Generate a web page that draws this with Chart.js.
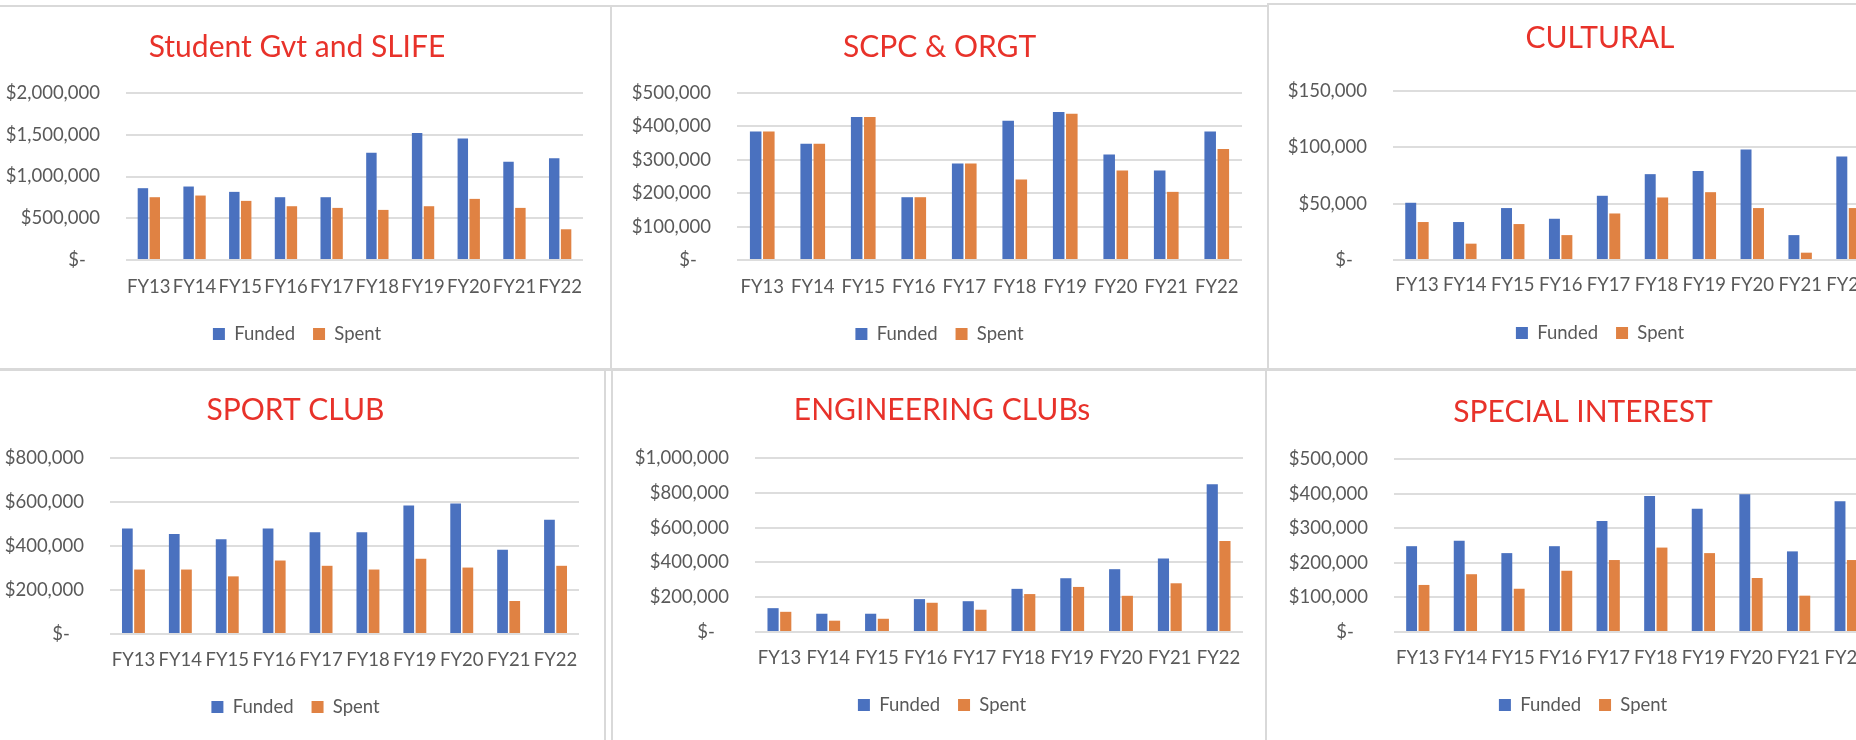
<!DOCTYPE html>
<html>
<head>
<meta charset="utf-8">
<script src="https://cdn.jsdelivr.net/npm/chart.js@4.4.1/dist/chart.umd.min.js"></script>
<style>
html,body{margin:0;padding:0;width:1856px;height:740px;overflow:hidden;background:#ffffff;}
canvas{position:absolute;}
.ln{position:absolute;background:#d9d9d9;z-index:5;}
</style>
</head>
<body>
<div class="ln" style="left:0;top:5px;width:1268px;height:2px"></div>
<div class="ln" style="left:1268px;top:3px;width:588px;height:2px"></div>
<div class="ln" style="left:0;top:368px;width:1856px;height:3px"></div>
<div class="ln" style="left:610px;top:5px;width:2px;height:364px"></div>
<div class="ln" style="left:1267px;top:3px;width:2px;height:366px"></div>
<div class="ln" style="left:604px;top:370px;width:2px;height:370px"></div>
<div class="ln" style="left:611px;top:370px;width:2px;height:370px"></div>
<div class="ln" style="left:1265px;top:370px;width:2px;height:370px"></div>
<script>
// ---------- data ----------
const categories = ['FY13','FY14','FY15','FY16','FY17','FY18','FY19','FY20','FY21','FY22'];
const seriesNames = ['Funded','Spent'];

const sgTitle = 'Student Gvt and SLIFE';
const sgFunded = [860000, 880000, 816000, 752000, 752000, 1284000, 1520000, 1456000, 1176000, 1220000];
const sgSpent  = [752000, 772000, 708000, 644000, 624000, 600000, 644000, 732000, 624000, 368000];
const sgTicks  = [0, 500000, 1000000, 1500000, 2000000];

const scpcTitle = 'SCPC & ORGT';
const scpcFunded = [385000, 348000, 428000, 188000, 289000, 417000, 443000, 316000, 268000, 385000];
const scpcSpent  = [385000, 348000, 428000, 188000, 289000, 241000, 438000, 268000, 204000, 332000];
const scpcTicks  = [0, 100000, 200000, 300000, 400000, 500000];

const culTitle = 'CULTURAL';
const culFunded = [50800, 33700, 46100, 36600, 57000, 76200, 79100, 98000, 22100, 91800];
const culSpent  = [33700, 14500, 31900, 22100, 41300, 55500, 60200, 46100, 6500, 46100];
const culTicks  = [0, 50000, 100000, 150000];

const sportTitle = 'SPORT CLUB';
const sportFunded = [479000, 455000, 431000, 479000, 463000, 463000, 584000, 593000, 383000, 519000];
const sportSpent  = [293000, 293000, 262000, 334000, 310000, 293000, 342000, 302000, 150000, 310000];
const sportTicks  = [0, 200000, 400000, 600000, 800000];

const engTitle = 'ENGINEERING CLUBs';
const engFunded = [137000, 105000, 105000, 189000, 177000, 248000, 309000, 361000, 422000, 849000];
const engSpent  = [116000, 65000, 76000, 168000, 128000, 218000, 259000, 208000, 280000, 523000];
const engTicks  = [0, 200000, 400000, 600000, 800000, 1000000];

const spTitle = 'SPECIAL INTEREST';
const spFunded = [248000, 264000, 228000, 248000, 321000, 393000, 356000, 398000, 233000, 378000];
const spSpent  = [136000, 167000, 125000, 177000, 208000, 244000, 228000, 156000, 105000, 208000];
const spTicks  = [0, 100000, 200000, 300000, 400000, 500000];

// ---------- layout / style ----------
const COLORS = ['#4A71BF', '#E08243'];
const TITLE_COLOR = '#E8322A';
const TEXT_COLOR = '#595959';
const GRID_COLOR = '#DDDDDD';
const FONT = 'Lato';
const TS = 30, FS = 18.5, LEG_PAD = 18, BOX = 12, LABEL_GAP = 26;

const panels = [
  {title: sgTitle, f: sgFunded, s: sgSpent, ticks: sgTicks,
   box: {l: -17, r: 611, t: 7, b: 368}, plot: {l: 126, r: 583, t: 93, b: 260}, titleY: 47, labelY: 287, legendY: 334},
  {title: scpcTitle, f: scpcFunded, s: scpcSpent, ticks: scpcTicks,
   box: {l: 612, r: 1267, t: 7, b: 368}, plot: {l: 737, r: 1242, t: 93, b: 260}, titleY: 47, labelY: 287, legendY: 334},
  {title: culTitle, f: culFunded, s: culSpent, ticks: culTicks,
   box: {l: 1269, r: 1931, t: 5, b: 368}, plot: {l: 1393, r: 1872, t: 91, b: 260}, titleY: 38, labelY: 285, legendY: 333},
  {title: sportTitle, f: sportFunded, s: sportSpent, ticks: sportTicks,
   box: {l: -13, r: 604, t: 371, b: 740}, plot: {l: 110, r: 579, t: 458, b: 634}, titleY: 410, labelY: 660, legendY: 707},
  {title: engTitle, f: engFunded, s: engSpent, ticks: engTicks,
   box: {l: 613, r: 1271, t: 371, b: 740}, plot: {l: 755, r: 1243, t: 458, b: 632}, titleY: 410, labelY: 658, legendY: 705},
  {title: spTitle, f: spFunded, s: spSpent, ticks: spTicks,
   box: {l: 1267, r: 1899, t: 371, b: 740}, plot: {l: 1394, r: 1870, t: 459, b: 632}, titleY: 412, labelY: 658, legendY: 705}
];

function money(v) {
  if (v === 0) return '$-   ';
  return '$' + Number(v).toLocaleString('en-US');
}

function makePanel(p) {
  const W = p.box.r - p.box.l, H = p.box.b - p.box.t;
  const cv = document.createElement('canvas');
  cv.width = W; cv.height = H;
  cv.style.left = p.box.l + 'px'; cv.style.top = p.box.t + 'px';
  cv.style.width = W + 'px'; cv.style.height = H + 'px';
  document.body.appendChild(cv);

  const tlh = TS * 1.2;
  const tPadTop = p.titleY - p.box.t - tlh / 2;
  const tPadBottom = p.plot.t - p.box.t - tPadTop - tlh;
  const itemH = Math.max(FS, BOX);
  const legendH = itemH + LEG_PAD + 10;
  const legendTop = p.legendY - LEG_PAD - itemH / 2;
  const padBottom = p.box.b - (legendTop + legendH);
  const xH = legendTop - p.plot.b;
  const xPad = p.labelY - p.plot.b - FS * 1.2 / 2;
  const yW = p.plot.l - p.box.l;
  const rW = p.box.r - p.plot.r;
  const tk = p.ticks;

  new Chart(cv, {
    type: 'bar',
    data: {
      labels: categories,
      datasets: [
        {label: seriesNames[0], data: p.f, backgroundColor: COLORS[0], borderWidth: 0,
         categoryPercentage: 0.52, barPercentage: 0.88},
        {label: seriesNames[1], data: p.s, backgroundColor: COLORS[1], borderWidth: 0,
         categoryPercentage: 0.52, barPercentage: 0.88}
      ]
    },
    options: {
      responsive: false,
      animation: false,
      devicePixelRatio: 1,
      layout: {padding: {left: 0, right: 0, top: 0, bottom: padBottom}},
      plugins: {
        title: {display: true, text: p.title, color: TITLE_COLOR,
                font: {family: FONT, size: TS, weight: 'normal', lineHeight: 1.2},
                padding: {top: tPadTop, bottom: tPadBottom}},
        legend: {display: true, position: 'bottom',
                 labels: {color: TEXT_COLOR, font: {family: FONT, size: FS}, boxWidth: BOX, boxHeight: BOX, padding: LEG_PAD}},
        tooltip: {enabled: false}
      },
      scales: {
        x: {
          grid: {display: false, drawTicks: false},
          border: {display: false},
          ticks: {color: TEXT_COLOR, font: {family: FONT, size: FS}, padding: xPad, maxRotation: 0, autoSkip: false},
          afterFit: (s) => { s.height = xH; }
        },
        y: {
          position: 'left',
          min: tk[0], max: tk[tk.length - 1],
          afterBuildTicks: (s) => { s.ticks = tk.map(v => ({value: v})); },
          grid: {color: GRID_COLOR, lineWidth: 2, drawTicks: false},
          border: {display: false},
          ticks: {color: TEXT_COLOR, font: {family: FONT, size: FS}, padding: LABEL_GAP, callback: money},
          afterFit: (s) => { s.width = yW; }
        },
        yR: {
          position: 'right', display: true,
          grid: {display: false, drawTicks: false}, border: {display: false},
          ticks: {display: false},
          afterFit: (s) => { s.width = rW; }
        }
      }
    }
  });
}

Promise.all([
  document.fonts.load('30px Lato'),
  document.fonts.load('18.5px Lato')
]).catch(() => {}).then(() => { panels.forEach(makePanel); });
</script>
</body>
</html>
